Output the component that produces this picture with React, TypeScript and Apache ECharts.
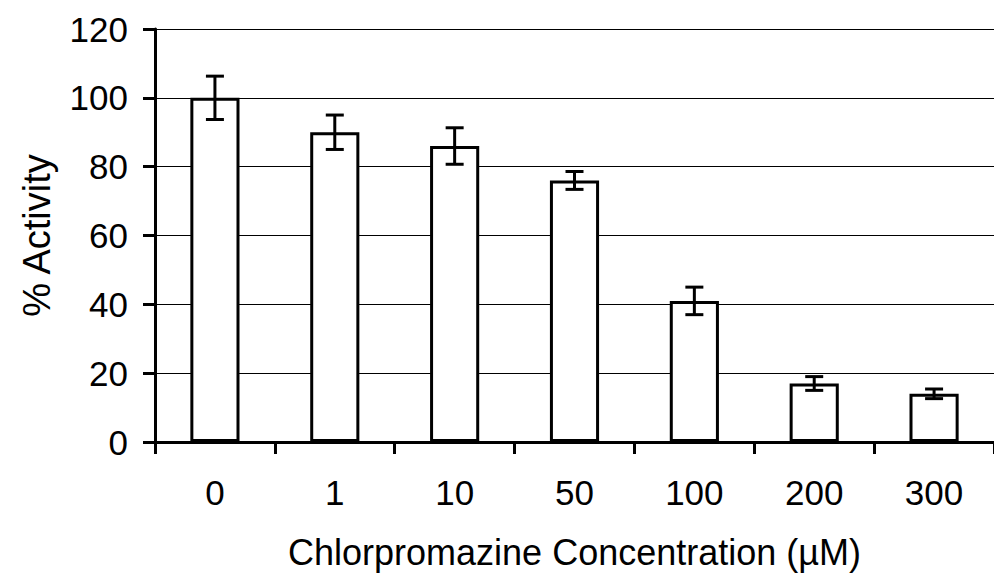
import React, { useEffect, useRef } from "react";
import * as echarts from "echarts";

const categories = ["0", "1", "10", "50", "100", "200", "300"];
const activity = [100, 90, 86, 76, 41, 17, 14];
const errors = [6.3, 5, 5.3, 2.6, 4, 2, 1.4];
const yTicks = { min: 0, max: 120, interval: 20 };

const FONT = "'Liberation Sans', Arial, sans-serif";

export default function App() {
  const ref = useRef<HTMLDivElement>(null);

  useEffect(() => {
    if (!ref.current) return;
    const chart = echarts.init(ref.current, null, { renderer: "svg" });
    const errData = categories.map((_, i) => [i, activity[i] - errors[i], activity[i] + errors[i]]);

    chart.setOption({
      animation: false,
      backgroundColor: "#fff",
      grid: { left: 155, right: -8, top: 29, bottom: 135, containLabel: false },
      xAxis: {
        type: "category",
        data: categories,
        name: "Chlorpromazine Concentration (µM)",
        nameLocation: "middle",
        nameGap: 92,
        nameTextStyle: { fontFamily: FONT, fontSize: 36, color: "#000" },
        axisLine: { lineStyle: { color: "#000", width: 3 } },
        axisTick: { show: true, length: 12, lineStyle: { color: "#000", width: 3 } },
        axisLabel: { fontFamily: FONT, fontSize: 35, color: "#000", margin: 33 },
        splitLine: { show: false },
      },
      yAxis: {
        type: "value",
        ...yTicks,
        name: "% Activity",
        nameLocation: "middle",
        nameGap: 99,
        nameTextStyle: { fontFamily: FONT, fontSize: 38, color: "#000" },
        axisLine: { show: true, lineStyle: { color: "#000", width: 3 } },
        axisTick: { show: true, length: 12, lineStyle: { color: "#000", width: 3 } },
        axisLabel: { fontFamily: FONT, fontSize: 35, color: "#000", margin: 27 },
        splitLine: {
          show: true,
          lineStyle: { color: "#000", width: 1 },
        },
      },
      series: [
        {
          type: "bar",
          data: activity,
          barWidth: "41%",
          itemStyle: { color: "#fff", borderColor: "#000", borderWidth: 3 },
          z: 3,
        },
        {
          type: "custom",
          data: errData,
          z: 4,
          renderItem: (params: any, api: any) => {
            const x = api.coord([api.value(0), 0])[0];
            const lo = api.coord([api.value(0), api.value(1)])[1];
            const hi = api.coord([api.value(0), api.value(2)])[1];
            const half = 9;
            const style = { stroke: "#000", lineWidth: 3 };
            return {
              type: "group",
              children: [
                { type: "line", shape: { x1: x, y1: hi, x2: x, y2: lo }, style },
                { type: "line", shape: { x1: x - half, y1: hi, x2: x + half, y2: hi }, style },
                { type: "line", shape: { x1: x - half, y1: lo, x2: x + half, y2: lo }, style },
              ],
            };
          },
        },
      ],
    });
    return () => chart.dispose();
  }, []);

  return <div ref={ref} style={{ width: 994, height: 577, position: "absolute", left: 0, top: 0 }} />;
}
